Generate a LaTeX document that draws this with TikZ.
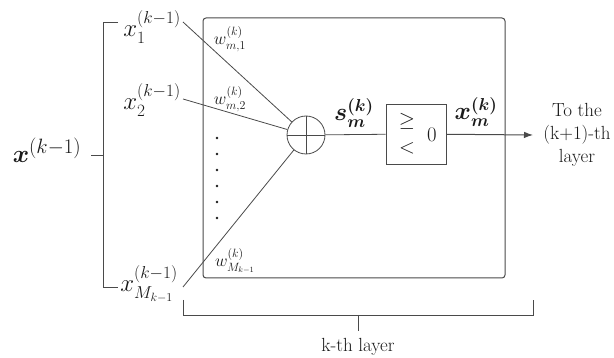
\documentclass[tikz,border=0pt]{standalone}
\usepackage{amsmath,amssymb}
\usetikzlibrary{arrows.meta,calc,positioning}
\definecolor{ink}{HTML}{1A1A1A}
\definecolor{wire}{HTML}{4A4A4A}

\begin{document}
\begin{tikzpicture}[x=1pt,y=-1pt,>={Latex[length=9pt,width=6.5pt]},font=\fontsize{19}{23}\selectfont,text=ink,
  wirel/.style={draw=wire,line width=.8pt},
  frame/.style={draw=wire,line width=1pt,rounded corners=3pt},
  sumnode/.style={circle,draw=wire,line width=.8pt,minimum size=38pt,inner sep=0pt},
  thrbox/.style={draw=wire,line width=.8pt,minimum width=60pt,minimum height=60pt,inner sep=0pt},
  lbl/.style={inner sep=0pt},
  xlbl/.style={inner sep=0pt,font=\fontsize{23}{26}\selectfont},
  wlbl/.style={inner sep=0pt,font=\fontsize{17}{19}\selectfont}]
\useasboundingbox (0,0) rectangle (614,358);

% k-th layer frame
\draw[frame] (203,18) rectangle (505,278);

% left bracket and inputs
\node[lbl,font=\fontsize{31}{34}\selectfont] (xin) at (47,150) {$\boldsymbol{x}^{(k-1)}$};
\draw[wirel] (118,22) -- (103,22) -- (103,287) -- (118,287);
\draw[wirel] (91,155) -- (103,155);
\node[xlbl] (x1) at (152,27) {$x_1^{(k-1)}$};
\node[xlbl] (x2) at (152,100) {$x_2^{(k-1)}$};
\node[xlbl] (xM) at (149,284) {$x_{M_{k-1}}^{(k-1)}$};
\coordinate (x1e) at (183,22);
\coordinate (x2e) at (183,99);
\coordinate (xMe) at (183,287);

% weights and summation
\node[sumnode] (sum) at (306,135) {};
\draw[wirel] (sum.north) -- (sum.south);
\draw[wirel] (sum.west) -- (sum.east);
\draw[wirel] (x1e) -- (sum);
\draw[wirel] (x2e) -- (sum);
\draw[wirel] (xMe) -- (sum);
\node[wlbl] (w1) at (230,39) {$w_{m,1}^{(k)}$};
\node[wlbl] (w2) at (230,99) {$w_{m,2}^{(k)}$};
\node[wlbl] (wM) at (235,261) {$w_{M_{k-1}}^{(k)}$};
\foreach \yy in {138,154,170,186,202,218}{\fill[ink] (217,\yy) circle (1.3);}

% threshold and output
\node[thrbox] (thr) at (416,134) {};
\node[lbl,font=\fontsize{22}{24}\selectfont] (ge) at (407,121) {$\geq$};
\node[lbl,font=\fontsize{22}{24}\selectfont] (lt) at (407,148) {$<$};
\node[lbl,font=\fontsize{21}{24}\selectfont] (zero) at (432,135) {$0$};
\draw[wirel] (sum) -- (thr);
\node[xlbl] (s) at (354,113) {$\boldsymbol{s_m^{(k)}}$};
\node[xlbl] (xout) at (476,112) {$\boldsymbol{x_m^{(k)}}$};
\coordinate (outp) at (533,135);
\draw[wirel,line width=1pt,->] (thr) -- (outp);
\node[lbl,align=center] (next) at (577,135) {To the\\(k+1)-th\\layer};

% bottom bracket
\draw[wirel] (183,300) -- (183,315) -- (533,315) -- (533,300);
\coordinate (brk) at (358,315);
\draw[wirel] (brk) -- ++(0,16) coordinate (brkend);
\node[lbl] (layer) at (358,347) {k-th layer};

\end{tikzpicture}
\end{document}
